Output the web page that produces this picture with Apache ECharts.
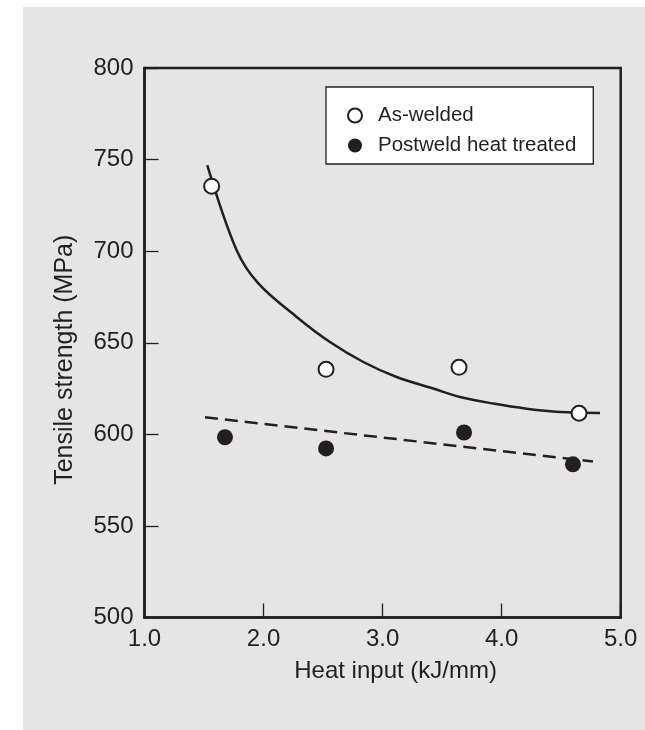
<!DOCTYPE html>
<html>
<head>
<meta charset="utf-8">
<script src="https://cdn.jsdelivr.net/npm/echarts@6/dist/echarts.min.js"></script>
<style>
html,body{margin:0;padding:0;background:#ffffff;}
#chart{width:645px;height:730px;}
</style>
</head>
<body>
<div id="chart"></div>
<script>
// Data
const xTicks = [1.0, 2.0, 3.0, 4.0, 5.0];
const yTicks = [500, 550, 600, 650, 700, 750, 800];
const asWeldedX = [1.564, 2.525, 3.642, 4.650];
const asWeldedY = [735.5, 635.5, 636.6, 611.5];
const pwhtX = [1.676, 2.525, 3.684, 4.599];
const pwhtY = [598.4, 592.3, 601.0, 583.6];
// Fitted curve (as-welded)
const fitX = [1.527, 1.774, 1.956, 2.278, 2.558, 2.838, 3.118, 3.426, 3.650, 3.930, 4.210, 4.490, 4.826];
const fitY = [747.0, 700.5, 682.4, 664.1, 650.4, 639.5, 631.3, 625.0, 620.4, 616.8, 614.0, 612.2, 611.7];
// Dashed trend line (postweld heat treated)
const trendX = [1.508, 4.767];
const trendY = [609.3, 585.2];

const ink = '#231f20';
const zip = (a, b) => a.map((v, i) => [v, b[i]]);
const font = 'Liberation Sans, Arial, sans-serif';

const chart = echarts.init(document.getElementById('chart'), null, {renderer: 'canvas'});
chart.setOption({
  animation: false,
  backgroundColor: '#ffffff',
  textStyle: {fontFamily: font, color: ink},
  graphic: [{
    type: 'rect', z: -10, silent: true,
    shape: {x: 23, y: 7, width: 622, height: 723},
    style: {fill: '#e5e5e5'}
  }],
  grid: {
    left: 144.5, top: 68, right: 24.3, bottom: 112.5,
    show: true, borderColor: ink, borderWidth: 2.5, backgroundColor: 'transparent'
  },
  legend: {
    orient: 'vertical',
    left: 326, top: 87,
    padding: [18, 17, 8, 21],
    itemGap: 9,
    itemWidth: 36, itemHeight: 14,
    backgroundColor: '#ffffff',
    borderColor: ink, borderWidth: 1.3,
    textStyle: {fontSize: 20.5, color: ink, fontFamily: font, lineHeight: 20},
    data: [
      {name: 'As-welded', icon: 'circle', itemStyle: {color: '#ffffff', borderColor: ink, borderWidth: 2}},
      {name: 'Postweld heat treated', icon: 'circle', itemStyle: {color: ink, borderWidth: 0}}
    ]
  },
  xAxis: {
    type: 'value', min: xTicks[0], max: xTicks[xTicks.length - 1], interval: 1,
    name: 'Heat input (kJ/mm)', nameLocation: 'middle', nameGap: 42,
    nameTextStyle: {fontSize: 24, color: ink, fontFamily: font, padding: [0, 0, 0, 26]},
    axisLine: {show: true, lineStyle: {color: ink, width: 2.5}},
    axisTick: {show: true, inside: true, length: 14, lineStyle: {color: ink, width: 1.3}},
    axisLabel: {fontSize: 24, color: ink, margin: 10, formatter: v => v.toFixed(1), showMinLabel: true, showMaxLabel: true},
    splitLine: {show: false}
  },
  yAxis: {
    type: 'value', min: yTicks[0], max: yTicks[yTicks.length - 1], interval: 50,
    name: 'Tensile strength (MPa)', nameLocation: 'middle', nameGap: 67, nameRotate: 90,
    nameTextStyle: {fontSize: 25, color: ink, fontFamily: font, padding: [0, 34, 0, 0]},
    axisLine: {show: true, lineStyle: {color: ink, width: 2.5}},
    axisTick: {show: true, inside: true, length: 14, lineStyle: {color: ink, width: 1.3}},
    axisLabel: {fontSize: 24, color: ink, margin: 11},
    splitLine: {show: false}
  },
  series: [
    {
      name: 'fit', type: 'line', smooth: 0.35, showSymbol: false, silent: true,
      data: zip(fitX, fitY),
      lineStyle: {color: ink, width: 2.5}, z: 2
    },
    {
      name: 'trend', type: 'line', showSymbol: false, silent: true,
      data: zip(trendX, trendY),
      lineStyle: {color: ink, width: 2.5, type: [13, 7]}, z: 2
    },
    {
      name: 'As-welded', type: 'scatter', symbol: 'circle', symbolSize: 15,
      data: zip(asWeldedX, asWeldedY),
      itemStyle: {color: '#ffffff', borderColor: ink, borderWidth: 2, opacity: 1}, z: 5
    },
    {
      name: 'Postweld heat treated', type: 'scatter', symbol: 'circle', symbolSize: 16,
      data: zip(pwhtX, pwhtY),
      itemStyle: {color: ink, opacity: 1}, z: 5
    }
  ]
});
</script>
</body>
</html>
